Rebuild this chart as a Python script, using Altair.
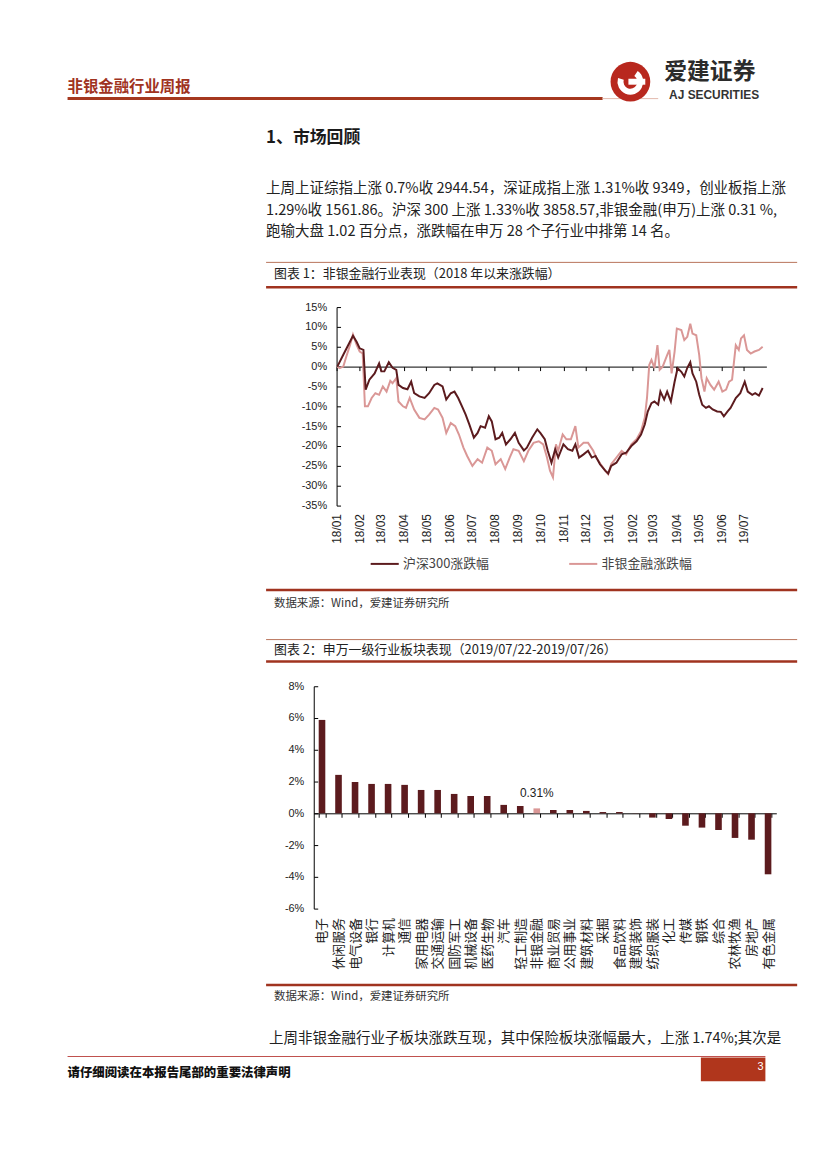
import altair as alt
import pandas as pd

CJK = "Noto Sans CJK SC"
LAT = "Liberation Sans"
DARK = "#5C1B1E"
PINK = "#DA9796"
RED = "#A0331F"

# ---------------- chart 1 data ----------------
S1 = "沪深300涨跌幅"
S2 = "非银金融涨跌幅"
dates_hs = ["2018-01-02","2018-01-10","2018-01-23","2018-01-28","2018-02-01","2018-02-06","2018-02-09","2018-02-14","2018-02-21","2018-02-27",
            "2018-03-02","2018-03-06","2018-03-12","2018-03-17","2018-03-22","2018-03-25","2018-03-31",
            "2018-04-06","2018-04-11","2018-04-15","2018-04-22","2018-04-29",
            "2018-05-05","2018-05-12","2018-05-16","2018-05-23","2018-05-28",
            "2018-06-03","2018-06-08","2018-06-13","2018-06-19","2018-06-23","2018-06-28",
            "2018-07-04","2018-07-09","2018-07-13","2018-07-19","2018-07-24","2018-07-28",
            "2018-08-02","2018-08-07","2018-08-11","2018-08-16","2018-08-22","2018-08-28",
            "2018-09-02","2018-09-09","2018-09-13","2018-09-20","2018-09-27",
            "2018-10-01","2018-10-07","2018-10-11","2018-10-16","2018-10-21","2018-10-25",
            "2018-11-01","2018-11-07","2018-11-13","2018-11-17","2018-11-22","2018-11-28",
            "2018-12-04","2018-12-09","2018-12-14","2018-12-20","2018-12-27","2018-12-31",
            "2019-01-04","2019-01-11","2019-01-18","2019-01-24","2019-01-31",
            "2019-02-07","2019-02-13","2019-02-18","2019-02-22","2019-02-27",
            "2019-03-03","2019-03-08","2019-03-11","2019-03-16","2019-03-20","2019-03-25","2019-03-30",
            "2019-04-03","2019-04-08","2019-04-12","2019-04-16","2019-04-20","2019-04-23","2019-04-28",
            "2019-05-02","2019-05-06","2019-05-11","2019-05-15","2019-05-20","2019-05-26","2019-05-31",
            "2019-06-04","2019-06-09","2019-06-13","2019-06-20","2019-06-26",
            "2019-07-02","2019-07-06","2019-07-12","2019-07-16","2019-07-21","2019-07-26"]
vals_hs = [0, 3.0, 7.75, 6.2, 4.6, 4.2, -5.8, -3.3, -1.7, 0.8,
           -1.2, -1.2, 1.1, -0.3, -0.8, -4.6, -5.4,
           -5.7, -3.8, -6.7, -7.5, -7.9,
           -6.7, -4.6, -4.2, -5.0, -8.3,
           -6.7, -6.3, -7.9, -10.4, -12.1, -14.6,
           -17.9, -16.7, -15.0, -15.4, -12.5, -13.8,
           -18.3, -17.9, -16.7, -19.6, -18.3, -16.7,
           -19.2, -21.1, -20.4, -17.9, -15.8,
           -16.7, -18.3, -21.2, -24.2, -20.8, -22.9,
           -19.6, -20.8, -21.2, -19.6, -22.9, -22.1,
           -21.2, -22.9, -22.5, -24.6, -26.2, -26.9,
           -25.0, -24.2, -22.1, -21.7, -20.0,
           -18.8, -17.1, -14.6, -11.3, -9.2,
           -8.8, -9.6, -6.3, -8.3, -6.3, -8.8, -3.8,
           -0.4, -1.3, -2.5, -0.3, 1.1, -1.7, -3.8,
           -7.1, -9.6, -10.4, -10.0, -10.8, -11.3, -11.4,
           -12.5, -11.3, -10.4, -7.9, -6.7,
           -3.8, -6.3, -7.1, -6.7, -7.3, -5.4]

dates_fin = ["2018-01-02","2018-01-05","2018-01-10","2018-01-14","2018-01-19","2018-01-23","2018-01-28",
             "2018-02-01","2018-02-05","2018-02-08","2018-02-12","2018-02-17","2018-02-22","2018-02-27",
             "2018-03-04","2018-03-09","2018-03-14","2018-03-17","2018-03-22","2018-03-25","2018-03-31",
             "2018-04-04","2018-04-09","2018-04-15","2018-04-22","2018-04-29",
             "2018-05-05","2018-05-12","2018-05-17","2018-05-23","2018-05-28",
             "2018-06-03","2018-06-09","2018-06-14","2018-06-20","2018-06-25",
             "2018-07-02","2018-07-09","2018-07-15","2018-07-22","2018-07-28",
             "2018-08-02","2018-08-09","2018-08-15","2018-08-21","2018-08-26",
             "2018-09-02","2018-09-09","2018-09-15","2018-09-22","2018-09-29",
             "2018-10-05","2018-10-10","2018-10-14","2018-10-18","2018-10-22","2018-10-25","2018-10-31",
             "2018-11-05","2018-11-11","2018-11-17","2018-11-21","2018-11-28",
             "2018-12-04","2018-12-11","2018-12-15","2018-12-21","2018-12-27","2018-12-31",
             "2019-01-04","2019-01-11","2019-01-18","2019-01-24","2019-01-31",
             "2019-02-07","2019-02-13","2019-02-18","2019-02-21","2019-02-24","2019-02-27",
             "2019-03-03","2019-03-07","2019-03-10","2019-03-14","2019-03-20","2019-03-23","2019-03-26","2019-03-30",
             "2019-04-02","2019-04-08","2019-04-12","2019-04-16","2019-04-20","2019-04-23","2019-04-28",
             "2019-05-02","2019-05-05","2019-05-09","2019-05-12","2019-05-17","2019-05-22","2019-05-28",
             "2019-06-02","2019-06-07","2019-06-11","2019-06-15","2019-06-20","2019-06-24","2019-06-27",
             "2019-07-01","2019-07-05","2019-07-10","2019-07-15","2019-07-21","2019-07-26"]
vals_fin = [0, -0.4, 0, 2.5, 5.4, 8.1, 5.4,
            3.8, 3.3, -10.0, -10.0, -7.9, -6.7, -7.1,
            -5.0, -6.3, -3.6, -4.2, -2.9, -8.8, -10.0,
            -10.4, -7.9, -10.8, -12.9, -13.3,
            -12.1, -10.4, -10.8, -12.9, -16.7,
            -14.2, -15.0, -17.1, -20.4, -22.5,
            -25.0, -23.3, -24.2, -20.4, -21.2,
            -24.6, -23.3, -25.8, -22.9, -20.8,
            -21.2, -23.8, -21.2, -19.2, -18.8,
            -19.6, -22.9, -26.2, -27.9, -19.6, -21.2, -17.1,
            -18.3, -18.3, -15.0, -20.4, -19.2,
            -19.2, -21.2, -22.9, -24.6, -26.2, -27.1,
            -24.6, -22.9, -21.2, -22.1, -19.6,
            -18.3, -16.3, -12.9, -7.9, 0.4, 1.7,
            -0.4, 5.4, -0.8, 0.0, 2.9, 4.2, -1.7, 3.8,
            9.6, 9.2, 6.7, 7.5, 10.8, 8.3, 7.9,
            2.9, -2.9, -6.3, -2.9, -4.6, -5.8, -3.8,
            -6.3, -5.8, -3.8, -3.3, 5.4, 4.2, 7.1,
            7.9, 4.2, 3.3, 3.8, 4.2, 5.0]

y1_ticks = [-35, -30, -25, -20, -15, -10, -5, 0, 5, 10, 15]

# ---------------- chart 2 data ----------------
cats = ["电子","休闲服务","电气设备","银行","计算机","通信","家用电器","交通运输","国防军工","机械设备",
        "医药生物","汽车","轻工制造","非银金融","商业贸易","公用事业","建筑材料","采掘","食品饮料","建筑装饰",
        "纺织服装","化工","传媒","钢铁","综合","农林牧渔","房地产","有色金属"]
chg = [5.88, 2.42, 1.97, 1.85, 1.85, 1.79, 1.47, 1.47, 1.22, 1.09,
       1.09, 0.53, 0.46, 0.31, 0.21, 0.21, 0.15, 0.08, 0.08, 0.01,
       -0.27, -0.36, -0.78, -0.90, -1.05, -1.55, -1.66, -3.84]
y2_ticks = [-6, -4, -2, 0, 2, 4, 6, 8]
HIGHLIGHT = "非银金融"

# ---------------- text ----------------
header = "非银金融行业周报"
logo_cn = "爱建证券"
logo_en = "AJ SECURITIES"
section = "1、市场回顾"
para = ["上周上证综指上涨 0.7%收 2944.54，深证成指上涨 1.31%收 9349，创业板指上涨",
        "1.29%收 1561.86。沪深 300 上涨 1.33%收 3858.57,非银金融(申万)上涨 0.31 %,",
        "跑输大盘 1.02 百分点，涨跌幅在申万 28 个子行业中排第 14 名。"]
title1 = "图表 1：非银金融行业表现（2018 年以来涨跌幅）"
title2 = "图表 2：申万一级行业板块表现（2019/07/22-2019/07/26）"
source = "数据来源：Wind，爱建证券研究所"
body = "上周非银金融行业子板块涨跌互现，其中保险板块涨幅最大，上涨 1.74%;其次是"
footer = "请仔细阅读在本报告尾部的重要法律声明"
page_no = "3"

ONE = alt.Data(values=[{}])
PAGE_W = 811


def txt(x, y, s, size=13, weight="normal", color="#222", font=CJK, align="left"):
    return alt.Chart(ONE).mark_text(text=s, fontSize=size, fontWeight=weight, color=color,
                                    font=font, align=align, baseline="middle").encode(
        x=alt.value(x), y=alt.value(y))


def hline(x1, x2, y, w=1, color=RED):
    return alt.Chart(ONE).mark_rule(color=color, strokeWidth=w).encode(
        x=alt.value(x1), x2=alt.value(x2), y=alt.value(y))


def box(x1, x2, y1, y2, color):
    return alt.Chart(ONE).mark_rect(color=color).encode(
        x=alt.value(x1), x2=alt.value(x2), y=alt.value(y1), y2=alt.value(y2))


# ---------------- row A: header, text, chart 1 title ----------------
logo_disk = alt.Chart(ONE).mark_point(filled=True, shape="circle", size=1600, color="#B8281E",
                                      opacity=1).encode(x=alt.value(621), y=alt.value(70))
logo_swirl = alt.Chart(ONE).mark_arc(color="white", radius=13, radius2=7, theta=0.6,
                                     theta2=5.0).encode(x=alt.value(621), y=alt.value(70))
logo_bar = box(619, 636, 67, 73, "white")

rowA = alt.layer(
    txt(54, 75, header, size=15.5, weight="bold", color=RED),
    hline(54, 593, 87, w=3, color="#A5381F"),
    hline(593, 649, 87, w=1, color="#E2B9AD"),
    logo_disk, logo_swirl, logo_bar,
    txt(655, 60, logo_cn, size=23, weight="bold", color="#2B2B2B"),
    txt(660, 83, logo_en, size=12, weight="bold", color="#333", font=LAT),
    txt(254, 127, section, size=17, weight="bold", color="#1a1a1a"),
    txt(254, 178, para[0], size=14.6),
    txt(254, 200, para[1], size=14.6),
    txt(254, 221, para[2], size=14.6),
    hline(254, 789, 252, w=1, color="#B8735A"),
    txt(262, 264, title1, size=13),
    hline(254, 789, 277, w=2.5, color=RED),
).properties(width=PAGE_W, height=297)

# ---------------- row B: chart 1 ----------------
df1 = pd.DataFrame({
    "date": dates_hs + dates_fin,
    "value": vals_hs + vals_fin,
    "series": [S1] * len(dates_hs) + [S2] * len(dates_fin),
})
L1, W1, H1 = 325, 433, 200
x1 = alt.X("date:T", title=None,
           scale=alt.Scale(domain=["2018-01-01", "2019-07-31"], range=[L1, L1 + W1]),
           axis=alt.Axis(format="%y/%m", tickCount={"interval": "month", "step": 1},
                         labelAngle=-90, offset=-140, labelPadding=144, tickSize=4,
                         domainColor="#000", tickColor="#000", grid=False,
                         labelFont=LAT, labelFontSize=12, labelColor="#222"))
color1 = alt.Color("series:N", scale=alt.Scale(domain=[S1, S2], range=[DARK, PINK]),
                   legend=alt.Legend(orient="none", legendX=358, legendY=540,
                                     direction="horizontal",
                                     title=None, symbolType="stroke", symbolSize=800,
                                     symbolStrokeWidth=2, labelFont=CJK, labelFontSize=13,
                                     labelColor="#444", columnPadding=76, labelOffset=3))
ysc1 = alt.Scale(domain=[-35, 15], nice=False, zero=False)
fin_line = alt.Chart(df1).transform_filter(alt.datum.series == S2).mark_line(strokeWidth=2).encode(
    x=x1,
    y=alt.Y("value:Q", title=None, scale=ysc1,
            axis=alt.Axis(orient="right", offset=-W1, labels=False, domain=False, tickSize=4,
                          tickColor="#000", values=y1_ticks, grid=False)),
    color=color1)
hs_line = alt.Chart(df1).transform_filter(alt.datum.series == S1).mark_line(strokeWidth=2).encode(
    x=x1,
    y=alt.Y("value:Q", title=None, scale=ysc1,
            axis=alt.Axis(orient="left", offset=-L1, values=y1_ticks, labelExpr="datum.value + '%'",
                          tickSize=0, domainColor="#000", grid=False, labelPadding=10,
                          labelFont=LAT, labelFontSize=11, labelColor="#222")),
    color=color1)
rowB = alt.layer(fin_line, hs_line).resolve_axis(y="independent").properties(width=L1 + W1, height=H1)

# ---------------- row C: source 1, chart 2 title ----------------
rowC = alt.layer(
    hline(254, 789, 85, w=2.5, color=RED),
    txt(262, 99, source, size=11.5, color="#333"),
    hline(254, 789, 135, w=1, color="#B8735A"),
    txt(262, 146, title2, size=13),
    hline(254, 789, 157, w=2.5, color=RED),
).properties(width=PAGE_W, height=182)

# ---------------- row D: chart 2 ----------------
df2 = pd.DataFrame({"cat": cats, "value": chg})
L2, W2, H2 = 302, 466, 224
x2 = alt.X("cat:N", sort=None, title=None,
           scale=alt.Scale(paddingInner=0.6, paddingOuter=0.3, range=[L2, L2 + W2]),
           axis=alt.Axis(labelAngle=-90, offset=-96, labelPadding=101, tickBand="extent",
                         tickSize=4, domainColor="#000", tickColor="#000",
                         labelFont=CJK, labelFontSize=13, labelColor="#222"))
ysc2 = alt.Scale(domain=[-6, 8], nice=False)
bars = alt.Chart(df2).mark_bar().encode(
    x=x2,
    y=alt.Y("value:Q", title=None, scale=ysc2,
            axis=alt.Axis(orient="left", offset=-L2, values=y2_ticks, labelExpr="datum.value + '%'",
                          tickSize=0, domainColor="#000", grid=False, labelPadding=10,
                          labelFont=LAT, labelFontSize=11, labelColor="#222")),
    color=alt.condition(alt.datum.cat == HIGHLIGHT, alt.value(PINK), alt.value(DARK)))
lab = alt.Chart(df2).transform_filter(alt.datum.cat == HIGHLIGHT).transform_calculate(
    lab="format(datum.value, '.2f') + '%'").mark_text(
    dy=-15, fontSize=12, font=LAT, color="#222").encode(
    x=x2,
    y=alt.Y("value:Q", title=None, scale=ysc2,
            axis=alt.Axis(orient="right", offset=-W2, labels=False, domain=False, tickSize=4,
                          tickColor="#000", values=y2_ticks, grid=False)),
    text="lab:N")
rowD = alt.layer(bars, lab).resolve_axis(y="independent").properties(width=L2 + W2, height=H2)

# ---------------- row E: source 2, body, footer ----------------
rowE = alt.layer(
    hline(254, 789, 77, w=2.5, color=RED),
    txt(262, 89, source, size=11.5, color="#333"),
    txt(257, 131, body, size=14.6),
    hline(54, 757, 149, w=1, color="#C0504D"),
    txt(54, 166, footer, size=12.5, weight=900, color="#111"),
    box(692, 757, 150, 174, "#B0361C"),
    txt(749, 160, page_no, size=11, color="white", font=LAT),
).properties(width=PAGE_W, height=250)

chart = alt.vconcat(rowA, rowB, rowC, rowD, rowE, spacing=0, bounds="flush").properties(
    padding=0
).configure_view(stroke=None)

chart.save("out.html", embed_options={"renderer": "svg", "actions": False})
